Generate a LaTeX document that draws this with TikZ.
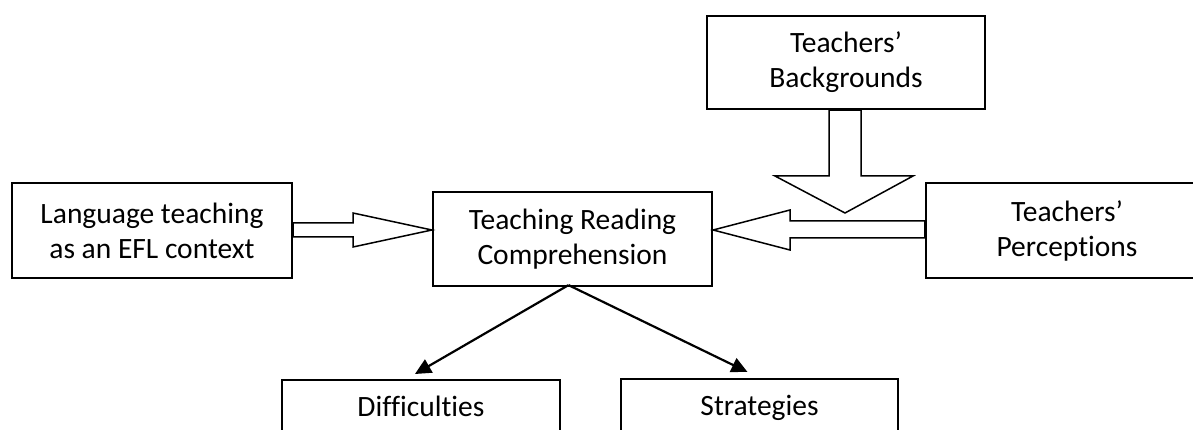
\documentclass[tikz,border=0pt]{standalone}
\usepackage{fontspec}
\setmainfont{Carlito}[Ligatures=NoCommon]
\usetikzlibrary{calc,arrows.meta}
\begin{document}
\begin{tikzpicture}[x=1pt,y=-1pt,
  box/.style={draw,line width=2.2pt,fill=white,inner sep=0pt,align=center,
    font=\fontsize{29.5}{35}\selectfont},
  blk/.style={draw,line width=1.5pt,fill=white,line join=miter},
  conn/.style={line width=2.2pt,-{Triangle[length=16pt,width=15pt]}}]
\useasboundingbox (0,0) rectangle (1193,430);
\clip (0,0) rectangle (1193,430);
\node[box,minimum width=278pt,minimum height=93pt] (bg) at (846,62.5) {Teachers’\\Backgrounds};
\node[box,minimum width=280pt,minimum height=95pt] (lt) at (152,230.5) {Language teaching\\as an EFL context};
\node[box,minimum width=279pt,minimum height=94pt] (trc) at (572.5,239) {Teaching Reading\\Comprehension};
\node[box,minimum width=282pt,minimum height=95pt] (pe) at (1067,230.5) {Teachers’\\Perceptions};
\node[box,minimum width=278pt,inner ysep=16pt,text depth=60pt,anchor=north] (dif) at (421,379) {Difficulties};
\node[box,minimum width=277pt,inner ysep=16pt,text depth=60pt,anchor=north] (str) at (759.5,378) {Strategies};
% block arrow: left box -> centre
\draw[blk] ($(lt.east)+(0,-7.5)$) -- (353,223) -- (353,213) -- ($(trc.west)+(0,-9)$)
  -- (353,247) -- (353,237) -- ($(lt.east)+(0,6.5)$) -- cycle;
% block arrow: perceptions -> centre
\draw[blk] ($(pe.west)+(0,-9.5)$) -- (790,221) -- (790,210) -- ($(trc.east)+(0,-9)$)
  -- (790,250) -- (790,238) -- ($(pe.west)+(0,7.5)$) -- cycle;
% block arrow: backgrounds down
\coordinate (tipB) at (845,213);
\draw[blk] ($(bg.south)+(-17,0)$) -- (829,176) -- (775,176) -- (tipB)
  -- (913,176) -- (861,176) -- ($(bg.south)+(15,0)$) -- cycle;
% connectors
\draw[conn] ($(trc.south)+(-4,-2)$) -- ($(dif.north)+(-6,-5)$);
\draw[conn] ($(trc.south)+(-4,-2)$) -- ($(str.north)+(-12,-6)$);
\end{tikzpicture}
\end{document}
